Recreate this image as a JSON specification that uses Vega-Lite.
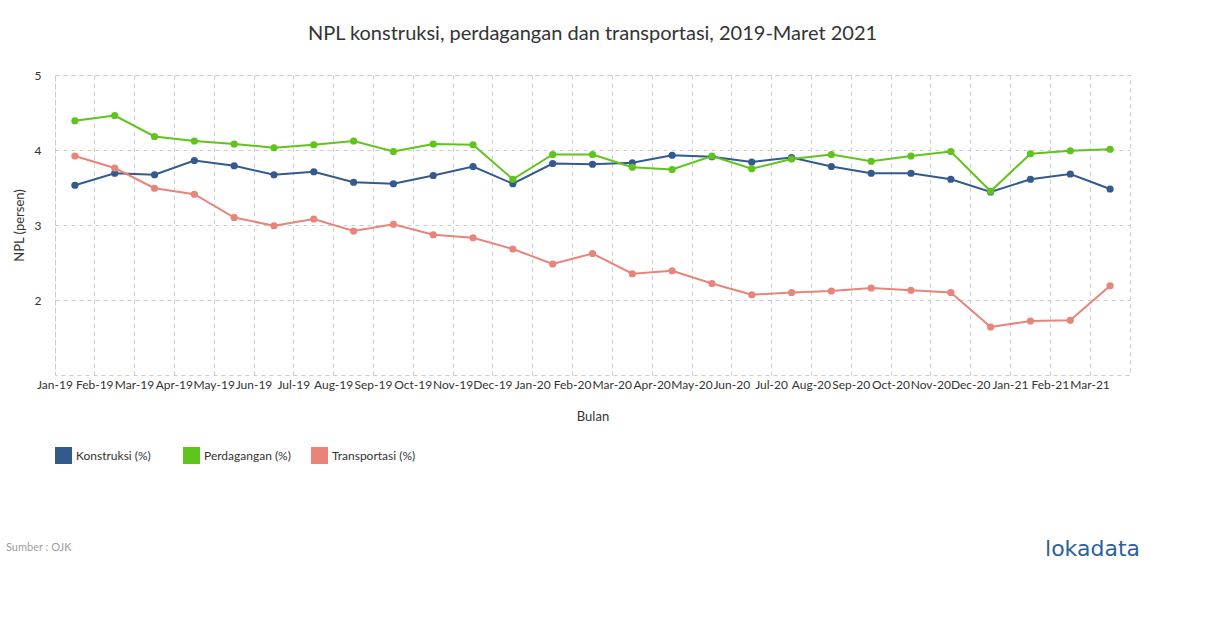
{
  "$schema": "https://vega.github.io/schema/vega-lite/v6.json",
  "autosize": {"type": "none"},
  "width": 1075,
  "height": 300,
  "padding": {"left": 55, "top": 75, "right": 80, "bottom": 253},
  "background": "white",
  "title": {
    "text": "NPL konstruksi, perdagangan dan transportasi, 2019-Maret 2021",
    "font": "Lato",
    "fontSize": 20,
    "fontWeight": "normal",
    "color": "#333333",
    "anchor": "middle",
    "offset": 25
  },
  "config": {
    "font": "Lato",
    "view": {"stroke": "#cccccc", "strokeDash": [4, 4], "strokeWidth": 1}
  },
  "datasets": {
    "npl": [
      {"bulan": "Jan-19", "seri": "Konstruksi (%)", "nilai": 3.53},
      {"bulan": "Feb-19", "seri": "Konstruksi (%)", "nilai": 3.69},
      {"bulan": "Mar-19", "seri": "Konstruksi (%)", "nilai": 3.67},
      {"bulan": "Apr-19", "seri": "Konstruksi (%)", "nilai": 3.86},
      {"bulan": "May-19", "seri": "Konstruksi (%)", "nilai": 3.79},
      {"bulan": "Jun-19", "seri": "Konstruksi (%)", "nilai": 3.67},
      {"bulan": "Jul-19", "seri": "Konstruksi (%)", "nilai": 3.71},
      {"bulan": "Aug-19", "seri": "Konstruksi (%)", "nilai": 3.57},
      {"bulan": "Sep-19", "seri": "Konstruksi (%)", "nilai": 3.55},
      {"bulan": "Oct-19", "seri": "Konstruksi (%)", "nilai": 3.66},
      {"bulan": "Nov-19", "seri": "Konstruksi (%)", "nilai": 3.78},
      {"bulan": "Dec-19", "seri": "Konstruksi (%)", "nilai": 3.55},
      {"bulan": "Jan-20", "seri": "Konstruksi (%)", "nilai": 3.82},
      {"bulan": "Feb-20", "seri": "Konstruksi (%)", "nilai": 3.81},
      {"bulan": "Mar-20", "seri": "Konstruksi (%)", "nilai": 3.83},
      {"bulan": "Apr-20", "seri": "Konstruksi (%)", "nilai": 3.93},
      {"bulan": "May-20", "seri": "Konstruksi (%)", "nilai": 3.91},
      {"bulan": "Jun-20", "seri": "Konstruksi (%)", "nilai": 3.84},
      {"bulan": "Jul-20", "seri": "Konstruksi (%)", "nilai": 3.90},
      {"bulan": "Aug-20", "seri": "Konstruksi (%)", "nilai": 3.78},
      {"bulan": "Sep-20", "seri": "Konstruksi (%)", "nilai": 3.69},
      {"bulan": "Oct-20", "seri": "Konstruksi (%)", "nilai": 3.69},
      {"bulan": "Nov-20", "seri": "Konstruksi (%)", "nilai": 3.61},
      {"bulan": "Dec-20", "seri": "Konstruksi (%)", "nilai": 3.44},
      {"bulan": "Jan-21", "seri": "Konstruksi (%)", "nilai": 3.61},
      {"bulan": "Feb-21", "seri": "Konstruksi (%)", "nilai": 3.68},
      {"bulan": "Mar-21", "seri": "Konstruksi (%)", "nilai": 3.48},
      {"bulan": "Jan-19", "seri": "Perdagangan (%)", "nilai": 4.39},
      {"bulan": "Feb-19", "seri": "Perdagangan (%)", "nilai": 4.46},
      {"bulan": "Mar-19", "seri": "Perdagangan (%)", "nilai": 4.18},
      {"bulan": "Apr-19", "seri": "Perdagangan (%)", "nilai": 4.12},
      {"bulan": "May-19", "seri": "Perdagangan (%)", "nilai": 4.08},
      {"bulan": "Jun-19", "seri": "Perdagangan (%)", "nilai": 4.03},
      {"bulan": "Jul-19", "seri": "Perdagangan (%)", "nilai": 4.07},
      {"bulan": "Aug-19", "seri": "Perdagangan (%)", "nilai": 4.12},
      {"bulan": "Sep-19", "seri": "Perdagangan (%)", "nilai": 3.98},
      {"bulan": "Oct-19", "seri": "Perdagangan (%)", "nilai": 4.08},
      {"bulan": "Nov-19", "seri": "Perdagangan (%)", "nilai": 4.07},
      {"bulan": "Dec-19", "seri": "Perdagangan (%)", "nilai": 3.61},
      {"bulan": "Jan-20", "seri": "Perdagangan (%)", "nilai": 3.94},
      {"bulan": "Feb-20", "seri": "Perdagangan (%)", "nilai": 3.94},
      {"bulan": "Mar-20", "seri": "Perdagangan (%)", "nilai": 3.77},
      {"bulan": "Apr-20", "seri": "Perdagangan (%)", "nilai": 3.74},
      {"bulan": "May-20", "seri": "Perdagangan (%)", "nilai": 3.92},
      {"bulan": "Jun-20", "seri": "Perdagangan (%)", "nilai": 3.75},
      {"bulan": "Jul-20", "seri": "Perdagangan (%)", "nilai": 3.88},
      {"bulan": "Aug-20", "seri": "Perdagangan (%)", "nilai": 3.94},
      {"bulan": "Sep-20", "seri": "Perdagangan (%)", "nilai": 3.85},
      {"bulan": "Oct-20", "seri": "Perdagangan (%)", "nilai": 3.92},
      {"bulan": "Nov-20", "seri": "Perdagangan (%)", "nilai": 3.98},
      {"bulan": "Dec-20", "seri": "Perdagangan (%)", "nilai": 3.45},
      {"bulan": "Jan-21", "seri": "Perdagangan (%)", "nilai": 3.95},
      {"bulan": "Feb-21", "seri": "Perdagangan (%)", "nilai": 3.99},
      {"bulan": "Mar-21", "seri": "Perdagangan (%)", "nilai": 4.01},
      {"bulan": "Jan-19", "seri": "Transportasi (%)", "nilai": 3.92},
      {"bulan": "Feb-19", "seri": "Transportasi (%)", "nilai": 3.76},
      {"bulan": "Mar-19", "seri": "Transportasi (%)", "nilai": 3.49},
      {"bulan": "Apr-19", "seri": "Transportasi (%)", "nilai": 3.41},
      {"bulan": "May-19", "seri": "Transportasi (%)", "nilai": 3.10},
      {"bulan": "Jun-19", "seri": "Transportasi (%)", "nilai": 2.99},
      {"bulan": "Jul-19", "seri": "Transportasi (%)", "nilai": 3.08},
      {"bulan": "Aug-19", "seri": "Transportasi (%)", "nilai": 2.92},
      {"bulan": "Sep-19", "seri": "Transportasi (%)", "nilai": 3.01},
      {"bulan": "Oct-19", "seri": "Transportasi (%)", "nilai": 2.87},
      {"bulan": "Nov-19", "seri": "Transportasi (%)", "nilai": 2.83},
      {"bulan": "Dec-19", "seri": "Transportasi (%)", "nilai": 2.68},
      {"bulan": "Jan-20", "seri": "Transportasi (%)", "nilai": 2.48},
      {"bulan": "Feb-20", "seri": "Transportasi (%)", "nilai": 2.62},
      {"bulan": "Mar-20", "seri": "Transportasi (%)", "nilai": 2.35},
      {"bulan": "Apr-20", "seri": "Transportasi (%)", "nilai": 2.39},
      {"bulan": "May-20", "seri": "Transportasi (%)", "nilai": 2.22},
      {"bulan": "Jun-20", "seri": "Transportasi (%)", "nilai": 2.07},
      {"bulan": "Jul-20", "seri": "Transportasi (%)", "nilai": 2.10},
      {"bulan": "Aug-20", "seri": "Transportasi (%)", "nilai": 2.12},
      {"bulan": "Sep-20", "seri": "Transportasi (%)", "nilai": 2.16},
      {"bulan": "Oct-20", "seri": "Transportasi (%)", "nilai": 2.13},
      {"bulan": "Nov-20", "seri": "Transportasi (%)", "nilai": 2.10},
      {"bulan": "Dec-20", "seri": "Transportasi (%)", "nilai": 1.64},
      {"bulan": "Jan-21", "seri": "Transportasi (%)", "nilai": 1.72},
      {"bulan": "Feb-21", "seri": "Transportasi (%)", "nilai": 1.73},
      {"bulan": "Mar-21", "seri": "Transportasi (%)", "nilai": 2.19}
    ],
    "notes": [
      {"teks": "Sumber : OJK", "bulan": "Jan-19", "pos": -1.31}
    ],
    "logo": [
      {"teks": "lokadata", "bulan": "Mar-21", "pos": -1.32}
    ]
  },
  "layer": [
    {
      "data": {"name": "npl"},
      "mark": {"type": "line", "strokeWidth": 2, "interpolate": "linear"},
      "encoding": {
        "x": {
          "field": "bulan",
          "type": "ordinal",
          "sort": null,
          "scale": {"type": "band", "paddingInner": 0, "paddingOuter": 0},
          "axis": {
            "title": "Bulan",
            "titleFont": "Lato",
            "titleFontSize": 13,
            "titleFontWeight": "normal",
            "titleColor": "#333333",
            "titlePadding": 20,
            "labelAngle": 0,
            "labelFont": "Lato",
            "labelFontSize": 12,
            "labelColor": "#333333",
            "labelPadding": 4,
            "labelOffset": -20,
            "labelOverlap": false,
            "bandPosition": 0,
            "domain": false,
            "ticks": false,
            "grid": true,
            "gridColor": "#cccccc",
            "gridDash": [4, 4]
          }
        },
        "y": {
          "field": "nilai",
          "type": "quantitative",
          "scale": {"domain": [1, 5], "nice": false, "zero": false},
          "axis": {
            "title": "NPL (persen)",
            "titleFont": "Lato",
            "titleFontSize": 13,
            "titleFontWeight": "normal",
            "titleColor": "#333333",
            "titlePadding": 8,
            "values": [2, 3, 4, 5],
            "format": "d",
            "labelFont": "Lato",
            "labelFontSize": 12,
            "labelColor": "#333333",
            "labelPadding": 14,
            "domain": false,
            "ticks": false,
            "grid": true,
            "gridColor": "#cccccc",
            "gridDash": [4, 4]
          }
        },
        "color": {
          "field": "seri",
          "type": "nominal",
          "scale": {
            "domain": ["Konstruksi (%)", "Perdagangan (%)", "Transportasi (%)"],
            "range": ["#335a8f", "#5fc41b", "#e8847a"]
          },
          "legend": {
            "title": null,
            "orient": "none",
            "legendX": 0,
            "legendY": 372,
            "direction": "horizontal",
            "columns": 3,
            "gridAlign": "all",
            "columnPadding": 20,
            "symbolType": "square",
            "symbolSize": 289,
            "symbolStrokeWidth": 0,
            "symbolOpacity": 1,
            "labelFont": "Lato",
            "labelFontSize": 12,
            "labelColor": "#333333",
            "labelOffset": 4
          }
        }
      }
    },
    {
      "data": {"name": "npl"},
      "mark": {"type": "point", "filled": true, "opacity": 1, "size": 52},
      "encoding": {
        "x": {"field": "bulan", "type": "ordinal", "sort": null},
        "y": {"field": "nilai", "type": "quantitative"},
        "color": {"field": "seri", "type": "nominal"}
      }
    },
    {
      "data": {"name": "notes"},
      "mark": {"type": "text", "align": "left", "baseline": "middle", "dx": -49, "font": "Lato", "fontSize": 11, "color": "#a0a0a0", "clip": false},
      "encoding": {
        "x": {"field": "bulan", "type": "ordinal", "sort": null, "bandPosition": 0},
        "y": {"field": "pos", "type": "quantitative"},
        "text": {"field": "teks"}
      }
    },
    {
      "data": {"name": "logo"},
      "mark": {"type": "text", "align": "right", "baseline": "middle", "dx": 10, "font": "DejaVu Sans", "fontSize": 22, "color": "#2f5f9e", "clip": false},
      "encoding": {
        "x": {"field": "bulan", "type": "ordinal", "sort": null, "bandPosition": 1},
        "y": {"field": "pos", "type": "quantitative"},
        "text": {"field": "teks"}
      }
    }
  ]
}
